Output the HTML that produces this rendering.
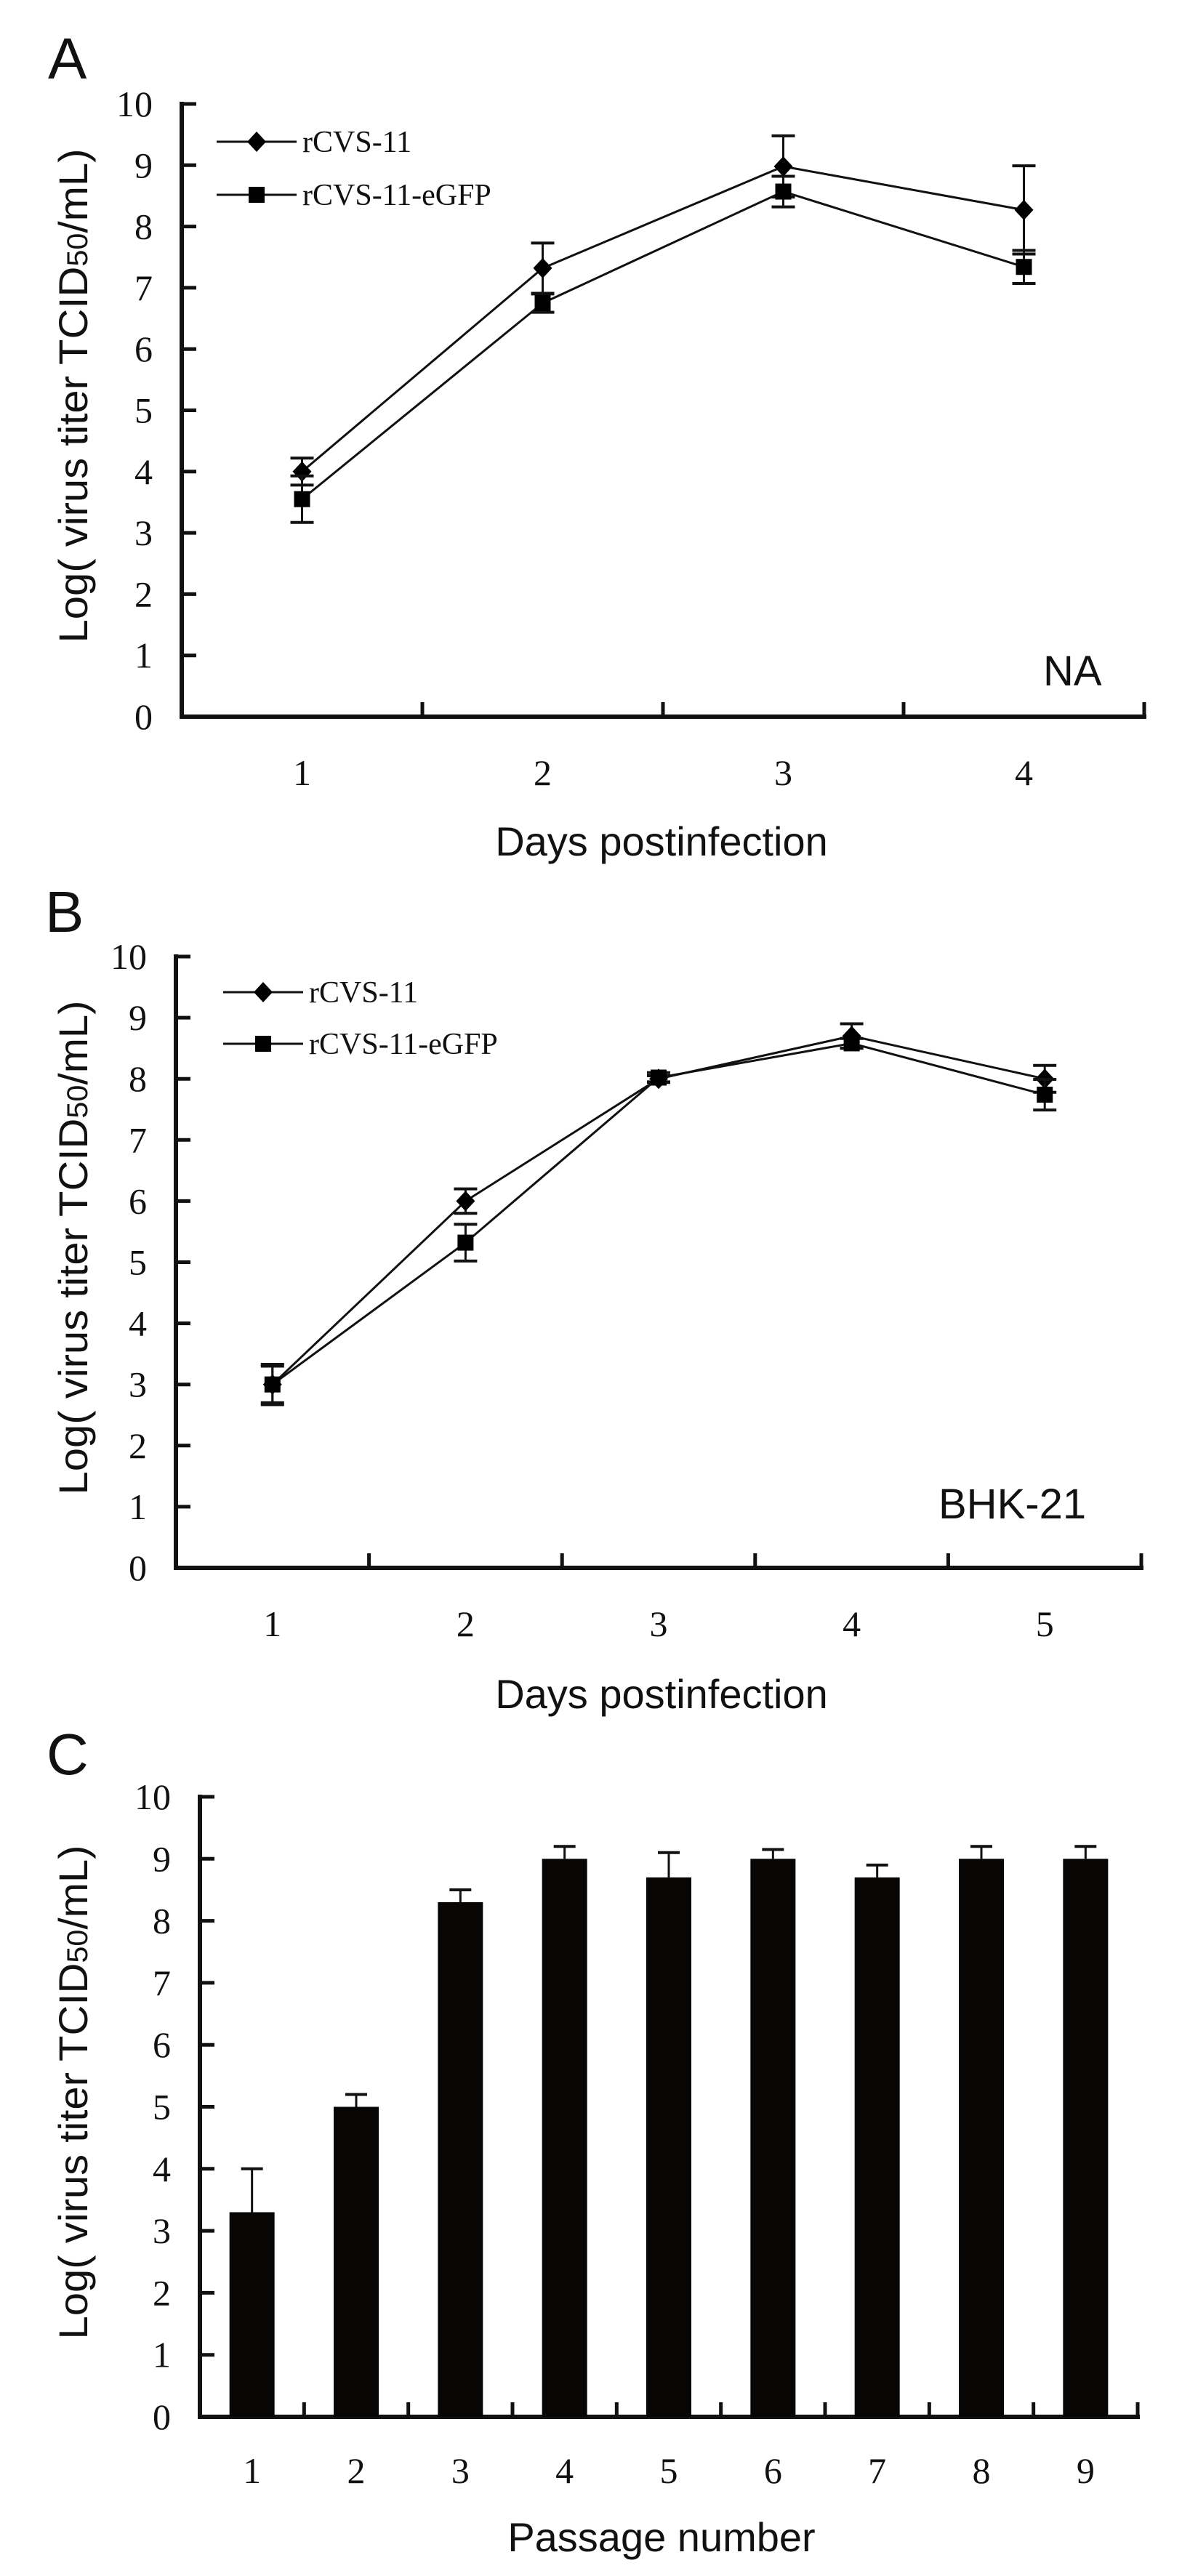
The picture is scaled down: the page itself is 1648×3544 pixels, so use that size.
<!DOCTYPE html>
<html><head><meta charset="utf-8"><style>
html,body{margin:0;padding:0;background:#fff}
svg{display:block}
.tk{font-family:"Liberation Serif",serif;font-size:50px;fill:#111}
.lg{font-family:"Liberation Serif",serif;font-size:42px;fill:#111}
.sn{font-family:"Liberation Sans",sans-serif;fill:#111}
</style></head><body>
<svg id="fig" width="1648" height="3544" viewBox="0 0 1648 3544" xmlns="http://www.w3.org/2000/svg"></svg>
<script>
// Panel A data
const aDays = ["1","2","3","4"];
const aRcvs = [4.0, 7.32, 8.98, 8.27];
const aRcvsErr = [0.22, 0.41, 0.5, 0.72];
const aGfp = [3.55, 6.75, 8.57, 7.34];
const aGfpErr = [0.38, 0.15, 0.25, 0.27];
// Panel B data
const bDays = ["1","2","3","4","5"];
const bRcvs = [3.0, 6.0, 8.0, 8.7, 8.0];
const bRcvsErr = [0.33, 0.2, 0.05, 0.2, 0.22];
const bGfp = [3.0, 5.32, 8.02, 8.58, 7.74];
const bGfpErr = [0.3, 0.3, 0.08, 0.08, 0.25];
// Panel C data
const cPassages = ["1","2","3","4","5","6","7","8","9"];
const cTiter = [3.3, 5.0, 8.3, 9.0, 8.7, 9.0, 8.7, 9.0, 9.0];
const cErr = [0.7, 0.2, 0.2, 0.2, 0.4, 0.15, 0.2, 0.2, 0.2];
const yTicks = ["0","1","2","3","4","5","6","7","8","9","10"];

const NS="http://www.w3.org/2000/svg";
const svg=document.getElementById('fig');
function mk(tag,attrs,parent){const e=document.createElementNS(NS,tag);for(const k in attrs)e.setAttribute(k,attrs[k]);(parent||svg).appendChild(e);return e;}

function panel(cfg){
  const g=mk('g',{});
  
  
  const n=cfg.cats.length;
  const bw=(cfg.x1-cfg.x0)/n;
  const X=i=>cfg.x0+bw*(i+0.5);
  const Y=v=>cfg.y0-(cfg.y0-cfg.y10)*v/10;
  // letter
  const L=mk('text',{x:cfg.lx,y:cfg.ly,class:'sn','font-size':80},g);L.textContent=cfg.letter;
  
  
  // axes
  const ax=mk('path',{d:`M${cfg.x0} ${cfg.y10} V${cfg.y0} H${cfg.x1}`,stroke:'#111','stroke-width':6,fill:'none','stroke-linecap':'square'},g);
  
  
  yTicks.forEach((t,i)=>{
    const y=Y(+t);
    mk('line',{x1:cfg.x0,x2:cfg.x0+20,y1:y,y2:y,stroke:'#111','stroke-width':5},g);
    const tx=mk('text',{x:cfg.x0-40,y:y+17,'text-anchor':'end',class:'tk'},g);tx.textContent=t;
    
    
  });
  for(let i=1;i<=n;i++){const x=cfg.x0+bw*i;mk('line',{x1:x,x2:x,y1:cfg.y0,y2:cfg.y0-20,stroke:'#111','stroke-width':5},g);}
  cfg.cats.forEach((c,i)=>{
    const tx=mk('text',{x:X(i),y:cfg.tly,'text-anchor':'middle',class:'tk'},g);tx.textContent=c;
    
    
  });
  const xt=mk('text',{x:910,y:cfg.xty,'text-anchor':'middle',class:'sn','font-size':56},g);xt.textContent=cfg.xtitle;
  
  
  const cy=(cfg.y0+cfg.y10)/2-20;
  const yt=mk('text',{x:0,y:0,class:'sn','font-size':56,'text-anchor':'middle',transform:`translate(120 ${cy}) rotate(-90)`,textLength:680,lengthAdjust:'spacingAndGlyphs'},g);
  yt.innerHTML='Log( virus titer TCID<tspan font-size="40">50</tspan>/mL)';
  
  
  return {g,X,Y,bw};
}

function err(g,x,y1,y2,cap){
  mk('line',{x1:x,x2:x,y1:y1,y2:y2,stroke:'#111','stroke-width':3},g);
  mk('line',{x1:x-cap,x2:x+cap,y1:y1,y2:y1,stroke:'#111','stroke-width':4},g);
}
function diamond(g,x,y){return mk('path',{d:`M${x} ${y-14} L${x+13} ${y} L${x} ${y+14} L${x-13} ${y}Z`,fill:'#000'},g);}
function square(g,x,y){return mk('rect',{x:x-11,y:y-11,width:22,height:22,fill:'#000'},g);}

function linePanel(cfg,s1,e1,s2,e2){
  const p=panel(cfg);const g=p.g;
  [[s1,e1,diamond,'series-rcvs-11'],[s2,e2,square,'series-rcvs-11-egfp']].forEach(([s,e,m,nm])=>{
    const sg=mk('g',{},g);
    
    
    s.forEach((v,i)=>{err(sg,p.X(i),p.Y(v+e[i]),p.Y(v),16);err(sg,p.X(i),p.Y(v-e[i]),p.Y(v),16);});
    mk('polyline',{points:s.map((v,i)=>p.X(i)+','+p.Y(v)).join(' '),fill:'none',stroke:'#111','stroke-width':3},sg);
    s.forEach((v,i)=>{const mm=m(sg,p.X(i),p.Y(v));});
  });
  // legend
  const lg=mk('g',{},g);
  
  
  [[cfg.leg1,diamond,'rCVS-11'],[cfg.leg2,square,'rCVS-11-eGFP']].forEach(([y,m,t])=>{
    mk('line',{x1:cfg.legx,x2:cfg.legx+110,y1:y,y2:y,stroke:'#111','stroke-width':3},lg);
    m(lg,cfg.legx+55,y);
    const tx=mk('text',{x:cfg.legx+118,y:y+14,class:'lg'},lg);tx.textContent=t;
    
    
  });
  const cl=mk('text',{x:cfg.cellx,y:cfg.celly,class:'sn','font-size':58},g);cl.textContent=cfg.cell;
  
  
}

linePanel({name:'panel-a',letter:'A',lx:66,ly:108,x0:250,x1:1574,y0:986,y10:143,cats:aDays,tly:1080,xty:1177,xtitle:'Days postinfection',
  legx:298,leg1:195,leg2:268,cell:'NA',cellx:1435,celly:943},aRcvs,aRcvsErr,aGfp,aGfpErr);
linePanel({name:'panel-b',letter:'B',lx:62,ly:1282,x0:242,x1:1570,y0:2157,y10:1316,cats:bDays,tly:2251,xty:2350,xtitle:'Days postinfection',
  legx:307,leg1:1365,leg2:1436,cell:'BHK-21',cellx:1291,celly:2089},bRcvs,bRcvsErr,bGfp,bGfpErr);

(function(){
  const p=panel({name:'panel-c',letter:'C',lx:64,ly:2441,x0:275,x1:1565,y0:3325,y10:2472,cats:cPassages,tly:3416,xty:3510,xtitle:'Passage number'});
  cTiter.forEach((v,i)=>{
    const x=p.X(i);
    err(p.g,x,p.Y(v+cErr[i]),p.Y(v),15);
    const r=mk('rect',{x:x-31,y:p.Y(v),width:62,height:p.Y(0)-p.Y(v),fill:'#080604'},p.g);
    
    
  });
})();
</script>
</body></html>
